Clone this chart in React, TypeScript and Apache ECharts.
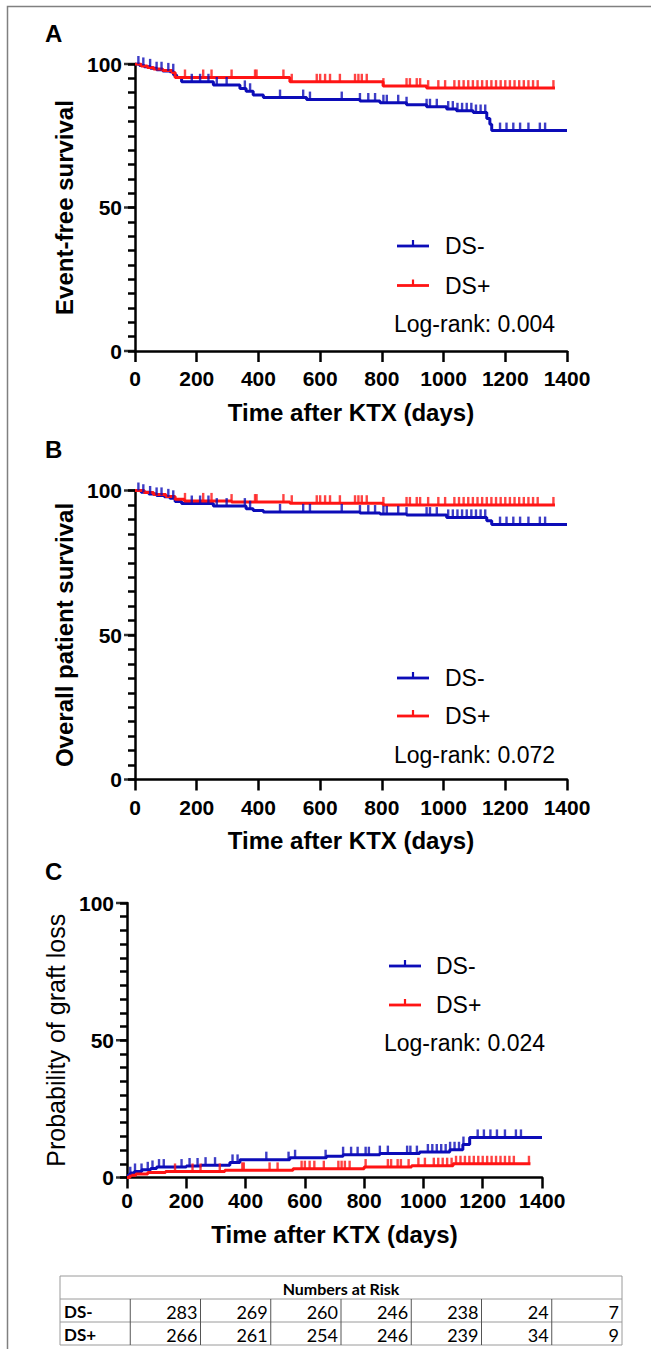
import React, { useEffect, useRef } from "react";
import * as echarts from "echarts";

// ---------- data ----------
const X_TICKS = [0, 200, 400, 600, 800, 1000, 1200, 1400];
const Y_TICKS = [0, 50, 100];
const Y_TICK_STEP = 5;

// Panel A: event-free survival (step points: [day, %])
const A_NEG = [[0,100],[15,99.5],[30,99],[50,98.5],[70,98],[90,97.6],[113,97.3],[125,96.2],[135,95.3],[151,93.8],[254,92.7],[340,91.5],[360,90.5],[383,89.2],[416,88.3],[556,87.6],[729,87.1],[794,86.5],[880,85.8],[945,85.1],[1010,84.3],[1042,83.7],[1096,83.1],[1140,81],[1150,79],[1156,76.8],[1400,76.8]];
const A_POS = [[0,100],[20,99.3],[40,98.8],[60,98.3],[90,97.7],[120,97.0],[130,95.3],[502,93.8],[804,92.3],[945,91.6],[1361,91.6]];

// Panel B: overall patient survival
const B_NEG = [[0,100],[20,99.4],[45,98.8],[70,98.3],[95,97.8],[113,97.3],[130,96.2],[151,95.5],[254,94.6],[360,93.7],[383,93.1],[416,92.6],[729,92.2],[794,91.9],[880,91.5],[1010,90.7],[1140,89.5],[1156,88.2],[1400,88.2]];
const B_POS = [[0,100],[30,99.3],[60,98.6],[100,97.9],[130,97.0],[160,96.4],[313,96.0],[502,95.6],[804,95.0],[1361,95.0]];

// Panel C: probability of graft loss
const C_NEG = [[0,0],[5,1],[12,1.6],[25,2.2],[50,2.8],[80,3.3],[100,3.8],[200,4.2],[250,4.5],[347,5.5],[381,6.5],[549,7.2],[673,7.7],[729,8.3],[853,8.7],[987,9.3],[1089,10.1],[1133,12],[1156,14.6],[1400,14.6]];
const C_POS = [[0,0],[10,0.8],[30,1.3],[70,1.8],[130,2.2],[330,2.6],[560,3.2],[800,3.8],[960,4.3],[1100,5.0],[1361,5.0]];

// censoring times (days)
const CENS_NEG = [11,27,49,70,86,108,124,184,211,238,265,297,356,373,470,545,567,670,729,756,778,805,816,853,880,945,956,978,1015,1030,1045,1060,1075,1090,1105,1120,1135,1183,1204,1226,1248,1275,1312,1329];
const CENS_POS = [162,221,248,313,389,394,481,508,589,600,616,632,664,713,724,735,751,805,880,891,913,924,950,983,1005,1035,1050,1065,1080,1095,1110,1125,1140,1155,1170,1185,1200,1215,1230,1245,1260,1275,1290,1305,1356];

const PANEL_LETTERS = ["A", "B", "C"];
const Y_TITLES = ["Event-free survival", "Overall patient survival", "Probability of graft loss"];
const X_TITLE = "Time after KTX (days)";
const LOGRANK = ["Log-rank: 0.004", "Log-rank: 0.072", "Log-rank: 0.024"];
const GROUPS = ["DS-", "DS+"];

const RISK_TITLE = "Numbers at Risk";
const RISK_NEG = [283, 269, 260, 246, 238, 24, 7];
const RISK_POS = [266, 261, 254, 246, 239, 34, 9];

// ---------- styling ----------
const BLUE = "#0c0cb8";
const RED = "#ff1414";
const FONT = "'Liberation Sans', Arial, sans-serif";
const TFONT = "Lato, 'Liberation Sans', sans-serif";

const GRIDS = [
  { left: 135, top: 64, width: 432, height: 287 },
  { left: 135, top: 490.5, width: 432, height: 289 },
  { left: 127, top: 903, width: 415, height: 274.5 },
];

function stepAt(steps: number[][], t: number) {
  let v = steps[0][1];
  for (const [d, y] of steps) {
    if (d <= t) v = y;
    else break;
  }
  return v;
}

export default function App() {
  const ref = useRef<HTMLDivElement>(null);

  useEffect(() => {
    document.body.style.margin = "0";
    const chart = echarts.init(ref.current!, undefined, { renderer: "svg" });

    const curves = [
      [A_NEG, A_POS],
      [B_NEG, B_POS],
      [C_NEG, C_POS],
    ];

    const xAxis: any[] = [];
    const yAxis: any[] = [];
    const series: any[] = [];
    const graphic: any[] = [];

    GRIDS.forEach((g, i) => {
      const isC = i === 2;
      xAxis.push({
        gridIndex: i,
        type: "value",
        min: X_TICKS[0],
        max: X_TICKS[X_TICKS.length - 1],
        interval: 200,
        axisLine: { show: true, onZero: false, lineStyle: { color: "#000", width: 2.5 } },
        axisTick: { show: true, length: 11, lineStyle: { color: "#000", width: 2.5 } },
        axisLabel: {
          fontSize: 21,
          fontWeight: "bold",
          color: "#000",
          margin: isC ? 12 : 17,
          fontFamily: FONT,
          formatter: (v: number) => String(v),
        },
        splitLine: { show: false },
        name: X_TITLE,
        nameLocation: "middle",
        nameGap: isC ? 45 : 49,
        nameTextStyle: { fontSize: 24, fontWeight: "bold", color: "#000", fontFamily: FONT },
      });
      // main y axis: a tick every 5 units, labels only at 0 / 50 / 100
      yAxis.push({
        gridIndex: i,
        type: "value",
        min: Y_TICKS[0],
        max: Y_TICKS[Y_TICKS.length - 1],
        interval: Y_TICK_STEP,
        axisLine: { show: true, onZero: false, lineStyle: { color: "#000", width: 2.5 } },
        axisTick: { show: true, interval: 0, length: 7, lineStyle: { color: "#000", width: 2.5 } },
        axisLabel: {
          fontSize: 21,
          fontWeight: "bold",
          color: "#000",
          margin: 13,
          fontFamily: FONT,
          hideOverlap: false,
          formatter: (v: number) => (Y_TICKS.includes(v) ? String(v) : ""),
        },
        splitLine: { show: false },
        name: Y_TITLES[i],
        nameLocation: "middle",
        nameGap: isC ? 55 : 58,
        nameTextStyle: {
          fontSize: isC ? 25 : 24,
          fontWeight: isC ? "normal" : "bold",
          color: "#000",
          fontFamily: FONT,
        },
      });

      const [neg, pos] = curves[i];
      const lineSeries = (data: number[][], color: string, name: string) => ({
        type: "line",
        name,
        xAxisIndex: i,
        yAxisIndex: i,
        data,
        step: "end",
        symbol: "none",
        lineStyle: { color, width: 3 },
        z: 3,
      });
      const censSeries = (steps: number[][], cens: number[], color: string) => ({
        type: "scatter",
        xAxisIndex: i,
        yAxisIndex: i,
        data: cens.map((t) => [t, stepAt(steps, t)]),
        symbol: "rect",
        symbolSize: [2.4, 8],
        symbolOffset: [0, -4],
        itemStyle: { color },
        z: 4,
      });
      // longer major ticks at 0 / 50 / 100
      series.push({
        type: "scatter",
        xAxisIndex: i,
        yAxisIndex: i,
        data: Y_TICKS.map((v) => [X_TICKS[0], v]),
        symbol: "rect",
        symbolSize: [11, 2.5],
        symbolOffset: [-5.5, 0],
        itemStyle: { color: "#000" },
        clip: false,
        silent: true,
        z: 5,
      });
      series.push(lineSeries(neg, BLUE, GROUPS[0]));
      series.push(censSeries(neg, CENS_NEG, BLUE));
      series.push(lineSeries(pos, RED, GROUPS[1]));
      series.push(censSeries(pos, CENS_POS, RED));
    });

    // Outer frame
    graphic.push({
      type: "polyline",
      shape: { points: [[7.5, 1349], [7.5, 6.5], [651, 6.5]] },
      style: { fill: null, stroke: "#808080", lineWidth: 1.5 },
      silent: true,
    });

    // Panel letters
    const letterPos = [
      [45, 33],
      [45, 449],
      [45, 871],
    ];
    PANEL_LETTERS.forEach((l, i) => {
      graphic.push({
        type: "text",
        x: letterPos[i][0],
        y: letterPos[i][1],
        style: { text: l, font: `bold 24px ${FONT}`, fill: "#000", verticalAlign: "middle", align: "left" },
      });
    });

    // Legends
    const legends = [
      { lx: 397, tx: 445, y1: 246, y2: 285.5, y3: 324, ltx: 394 },
      { lx: 397, tx: 445, y1: 678, y2: 716, y3: 755, ltx: 394 },
      { lx: 389, tx: 436, y1: 966, y2: 1005, y3: 1043, ltx: 384 },
    ];
    legends.forEach((L: any, i) => {
      [[L.y1, BLUE, GROUPS[0]], [L.y2, RED, GROUPS[1]]].forEach(([y, c, name]: any) => {
        graphic.push({
          type: "line",
          shape: { x1: L.lx, y1: y, x2: L.lx + 32, y2: y },
          style: { stroke: c, lineWidth: 2.8 },
        });
        graphic.push({
          type: "line",
          shape: { x1: L.lx + 16, y1: y, x2: L.lx + 16, y2: y - 6 },
          style: { stroke: c, lineWidth: 2.2 },
        });
        graphic.push({
          type: "text",
          x: L.tx,
          y,
          style: { text: name, font: `23px ${FONT}`, fill: "#000", verticalAlign: "middle", align: "left" },
        });
      });
      graphic.push({
        type: "text",
        x: L.ltx,
        y: L.y3,
        style: { text: LOGRANK[i], font: `23px ${FONT}`, fill: "#000", verticalAlign: "middle", align: "left" },
      });
    });

    // Numbers-at-risk table
    const tL = 60, tR = 622, tT = 1276, rowH = 23;
    const colW = (tR - tL) / 8;
    const lineCol = "#9a9a9a";
    graphic.push({
      type: "rect",
      shape: { x: tL, y: tT, width: tR - tL, height: rowH * 3 },
      style: { fill: null, stroke: lineCol, lineWidth: 1 },
    });
    [1, 2].forEach((r) => {
      graphic.push({
        type: "line",
        shape: { x1: tL, y1: tT + rowH * r, x2: tR, y2: tT + rowH * r },
        style: { stroke: lineCol, lineWidth: 1 },
      });
    });
    for (let c = 1; c < 8; c++) {
      graphic.push({
        type: "line",
        shape: { x1: tL + colW * c, y1: tT + rowH, x2: tL + colW * c, y2: tT + rowH * 3 },
        style: { stroke: "#555", lineWidth: 1 },
      });
    }
    graphic.push({
      type: "text",
      x: (tL + tR) / 2,
      y: tT + rowH / 2 + 1,
      style: { text: RISK_TITLE, font: `bold 16px ${TFONT}`, fill: "#000", align: "center", verticalAlign: "middle" },
    });
    [[GROUPS[0], RISK_NEG], [GROUPS[1], RISK_POS]].forEach(([name, vals]: any, r) => {
      const cy = tT + rowH * (r + 1) + rowH / 2 + 1;
      graphic.push({
        type: "text",
        x: tL + 4,
        y: cy,
        style: { text: name, font: `bold 17px ${TFONT}`, fill: "#000", align: "left", verticalAlign: "middle" },
      });
      vals.forEach((v: number, c: number) => {
        graphic.push({
          type: "text",
          x: tL + colW * (c + 2) - 3,
          y: cy,
          style: { text: String(v), font: `18px ${TFONT}`, fill: "#000", align: "right", verticalAlign: "middle" },
        });
      });
    });

    chart.setOption({
      animation: false,
      backgroundColor: "#fff",
      grid: GRIDS,
      xAxis,
      yAxis,
      series,
      graphic,
    });

    return () => chart.dispose();
  }, []);

  return <div ref={ref} style={{ width: 651, height: 1349 }} />;
}
